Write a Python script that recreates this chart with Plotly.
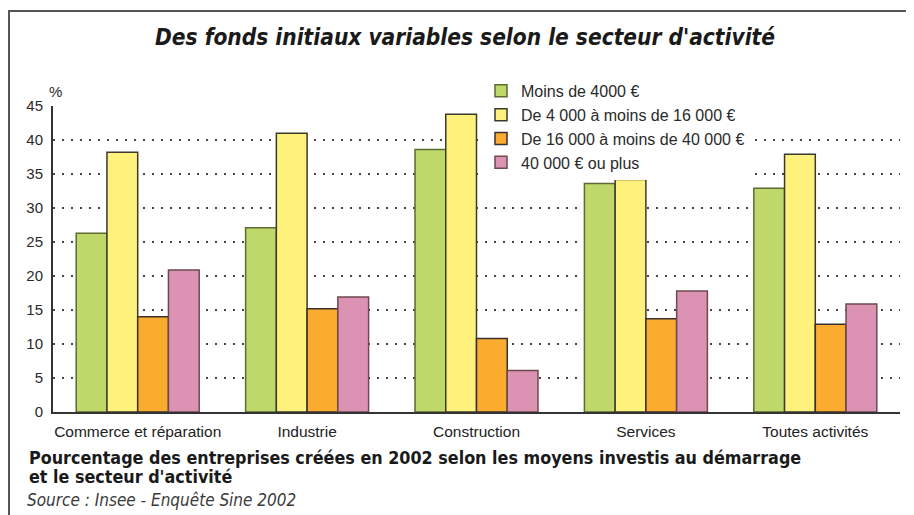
import plotly.graph_objects as go

categories = ["Commerce et réparation", "Industrie", "Construction", "Services", "Toutes activités"]
series_names = ["Moins de 4000 €", "De 4 000 à moins de 16 000 €",
                "De 16 000 à moins de 40 000 €", "40 000 € ou plus"]
moins_4000 = [26.3, 27.1, 38.6, 33.6, 32.9]
de_4000_16000 = [38.2, 41.0, 43.8, 34.2, 37.9]
de_16000_40000 = [14.0, 15.2, 10.8, 13.7, 12.9]
plus_40000 = [20.9, 16.9, 6.1, 17.8, 15.9]
y_ticks = [0, 5, 10, 15, 20, 25, 30, 35, 40, 45]

series_values = [moins_4000, de_4000_16000, de_16000_40000, plus_40000]
fill_colors = ["#bfd86a", "#fff27c", "#fbab2e", "#dc92b3"]
line_colors = ["#5d6a30", "#3b3a2c", "#3a3030", "#6e4a4e"]

# page body adds an 8px offset; work in screen pixels and convert
OFF = 8
W, H = 914 - OFF, 515 - OFF
L = 53 - OFF
T = 106 - OFF
R = W - (900 - OFF)
B = H - (411.7 - OFF)
pw, ph = W - L - R, H - T - B

def sx(px):
    return (px - OFF - L) / pw

def sy(py):
    return (H - B - (py - OFF)) / ph

SANS = "Liberation Sans, Arial, sans-serif"
NARROW = "DejaVu Sans Condensed, DejaVu Sans, sans-serif"

fig = go.Figure()
for name, vals, fc, lc in zip(series_names, series_values, fill_colors, line_colors):
    fig.add_trace(go.Bar(
        x=categories, y=vals, name=name,
        marker=dict(color=fc, line=dict(color=lc, width=1.5)),
    ))

fig.update_layout(
    width=W, height=H,
    margin=dict(l=L, r=R, t=T, b=B),
    paper_bgcolor="white", plot_bgcolor="white",
    barmode="group", bargap=0.274, bargroupgap=0,
    font=dict(family=SANS, color="#2a2a2a"),
    title=dict(
        text="<b><i>Des fonds initiaux variables selon le secteur d'activité</i></b>",
        font=dict(family=NARROW, size=22.5, color="#1a1a1a"),
        xref="container", yref="container",
        x=(465 - OFF) / W, y=1 - (37 - OFF) / H, xanchor="center", yanchor="middle",
    ),
    legend=dict(
        x=sx(481), y=sy(74), xanchor="left", yanchor="top",
        bgcolor="white", borderwidth=0,
        font=dict(family=SANS, size=16, color="#2a2a2a"),
        tracegroupgap=0, itemclick=False,
    ),
    showlegend=True,
)

fig.update_xaxes(
    showline=True, linecolor="#333333", linewidth=2,
    ticks="", showgrid=False,
    tickfont=dict(family=SANS, size=15.5, color="#222222"),
    ticklabelstandoff=4,
)
fig.update_yaxes(
    range=[0, 45], tickvals=y_ticks,
    showline=True, linecolor="#333333", linewidth=2,
    showgrid=True, gridcolor="#444444", gridwidth=1.6, griddash="1.6px,7.4px",
    zeroline=False, ticks="",
    tickfont=dict(family=SANS, size=15, color="#2a2a2a"),
    ticklabelstandoff=5,
)

# frame around the figure
fig.add_shape(type="rect", xref="paper", yref="paper",
              x0=sx(9), x1=sx(930), y0=sy(530), y1=sy(11),
              line=dict(color="#555555", width=2), fillcolor="rgba(0,0,0,0)", layer="above")

fig.add_annotation(text="%", xref="paper", yref="paper", x=sx(55), y=sy(92),
                   xanchor="center", yanchor="middle", showarrow=False,
                   font=dict(family=SANS, size=15, color="#2a2a2a"))
fig.add_annotation(
    text="<b>Pourcentage des entreprises créées en 2002 selon les moyens investis au démarrage</b>",
    xref="paper", yref="paper", x=sx(27), y=sy(457), xanchor="left", yanchor="middle",
    showarrow=False, font=dict(family=NARROW, size=17.8, color="#1a1a1a"))
fig.add_annotation(
    text="<b>et le secteur d'activité</b>",
    xref="paper", yref="paper", x=sx(27), y=sy(476), xanchor="left", yanchor="middle",
    showarrow=False, font=dict(family=NARROW, size=17.8, color="#1a1a1a"))
fig.add_annotation(
    text="<i>Source : Insee - Enquête Sine 2002</i>",
    xref="paper", yref="paper", x=sx(25), y=sy(500), xanchor="left", yanchor="middle",
    showarrow=False, font=dict(family=NARROW, size=17, color="#3a3a3a"))

fig.write_html("out.html")
